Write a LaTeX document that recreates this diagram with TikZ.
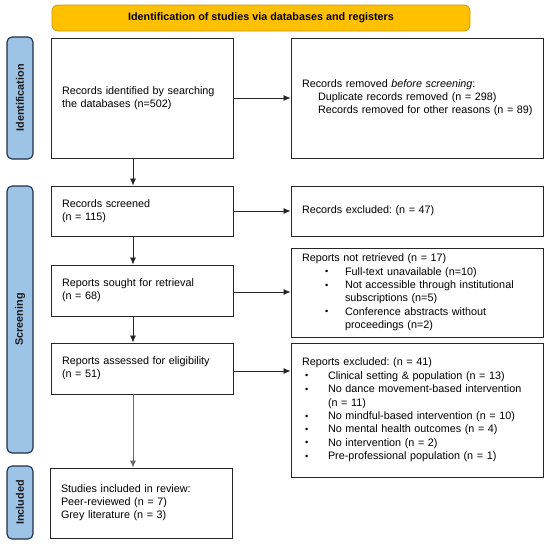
\documentclass[tikz,border=0pt]{standalone}
\usepackage{fontspec}
\usepackage{graphicx}
\setmainfont{Liberation Sans}
\usetikzlibrary{arrows.meta}
\definecolor{bannerfill}{HTML}{FFC000}
\definecolor{bannerdraw}{HTML}{C99A00}
\definecolor{sidefill}{HTML}{9DC3E6}
\definecolor{sidedraw}{HTML}{1F2F45}
\definecolor{boxdraw}{HTML}{262626}
\definecolor{arrgray}{HTML}{6A6A6A}
\newcommand{\bxfont}{\fontsize{10.8}{13}\selectfont\parindent=0pt\relax\frenchspacing}
\newcommand{\lstfont}{\fontsize{10.8}{13.4}\selectfont}
\newcommand{\blt}[3]{\par\hangindent=#2\relax\noindent\makebox[#2][l]{\hspace*{#1}\raisebox{0.4pt}{\scalebox{0.85}{\textbullet}}}#3}
\begin{document}
\begin{tikzpicture}[x=1pt,y=-1pt,
  box/.style={draw=boxdraw, line width=0.9pt, inner xsep=11pt, inner ysep=0pt, align=left, font=\bxfont},
  side/.style={draw=sidedraw, fill=sidefill, line width=1.1pt, rounded corners=5pt, rotate=90,
    minimum height=26pt, inner sep=0pt, font=\bxfont\bfseries, text=black!90},
  banner/.style={draw=bannerdraw, fill=bannerfill, line width=0.8pt, rounded corners=6pt,
    minimum width=418pt, minimum height=26pt, inner sep=0pt, font=\bxfont\bfseries},
  arr/.style={draw=boxdraw, line width=0.8pt, -{Latex[length=7pt,width=6pt]}}]
\useasboundingbox (0,0) rectangle (550,546);

% banner and phase bars
\node[banner] (ban) at (261,18) {Identification of studies via databases and registers};
\node[side, minimum width=122pt] (s1) at (20,98) {Identification};
\node[side, minimum width=267pt] (s2) at (20,319.5) {Screening};
\node[side, minimum width=73pt] (s3) at (20,502.5) {Included};

% boxes
\node[box, text width=160pt, minimum height=120pt] (b1) at (142,98)
  {Records identified by searching\\the databases (n=502)\par\vspace*{12pt}};
\node[box, text width=230pt, minimum height=120pt] (b2) at (417,98)
  {Records removed \textit{before screening}:\\
   \mbox{\hspace*{16pt}Duplicate records removed (n = 298)}\\
   \mbox{\hspace*{16pt}Records removed for other reasons (n = 89)}};
\node[box, text width=160pt, minimum height=50pt] (b3) at (142,211)
  {Records screened\\(n = 115)};
\node[box, text width=230pt, minimum height=50pt] (b4) at (417,211)
  {Records excluded: (n = 47)};
\node[box, text width=160pt, minimum height=51pt] (b5) at (142,290.5)
  {Reports sought for retrieval\\(n = 68)};
\node[box, text width=230pt, minimum height=89pt] (b6) at (417,292.5)
  {\lstfont Reports not retrieved (n = 17)%
   \blt{23pt}{43pt}{Full-text unavailable (n=10)}%
   \blt{23pt}{43pt}{Not accessible through institutional\newline subscriptions (n=5)}%
   \blt{23pt}{43pt}{Conference abstracts without\newline proceedings (n=2)}\par};
\node[box, text width=160pt, minimum height=51pt] (b7) at (142,368.5)
  {Reports assessed for eligibility\\(n = 51)};
\node[box, text width=230pt, minimum height=134pt] (b8) at (417,410)
  {\lstfont Reports excluded: (n = 41)%
   \blt{3pt}{26pt}{Clinical setting \& population (n = 13)}%
   \blt{3pt}{26pt}{No dance movement-based intervention\newline (n = 11)}%
   \blt{3pt}{26pt}{No mindful-based intervention (n = 10)}%
   \blt{3pt}{26pt}{No mental health outcomes (n = 4)}%
   \blt{3pt}{26pt}{No intervention (n = 2)}%
   \blt{3pt}{26pt}{Pre-professional population (n = 1)}\par};
\node[box, text width=160pt, minimum height=70pt] (b9) at (141,503)
  {Studies included in review:\\Peer-reviewed (n = 7)\\Grey literature (n = 3)};

% connectors
\coordinate (ax) at (133,0);
\coordinate (h3) at (0,292);
\coordinate (h4) at (0,371);
\draw[arr] (b1.east) -- (b2.west);
\draw[arr] (b3.east) -- (b4.west);
\draw[arr] (b5.east |- h3) -- (b6.west |- h3);
\draw[arr] (b7.east |- h4) -- (b8.west |- h4);
\draw[arr] (b1.south -| ax) -- (b3.north -| ax);
\draw[arr] (b3.south -| ax) -- (b5.north -| ax);
\draw[arr] (b5.south -| ax) -- (b7.north -| ax);
\draw[arr, draw=arrgray] (b7.south -| ax) -- (b9.north -| ax);
\end{tikzpicture}
\end{document}
